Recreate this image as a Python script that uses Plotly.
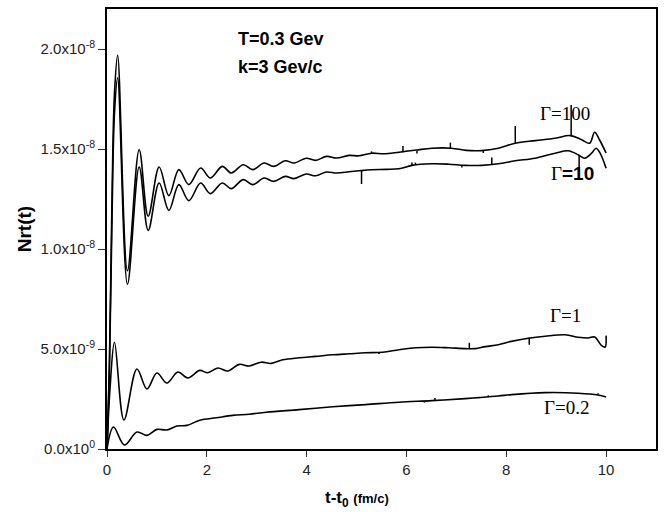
import plotly.graph_objects as go

# ---- data (y in units of 1e-8) ----
x_g100 = [0, 0.05, 0.10, 0.15, 0.213, 0.41, 0.645, 0.825, 1.045, 1.24, 1.44, 1.64, 1.876, 2.07, 2.31, 2.49,
          2.73, 2.92, 3.15, 3.34, 3.57, 3.75, 3.99, 4.18, 4.40, 4.60, 4.85, 5.05, 5.30, 5.55, 5.85, 6.20,
          6.51, 6.90, 7.20, 7.50, 7.84, 8.18, 8.58, 8.98, 9.28, 9.50, 9.67, 9.77, 9.87, 10.0]
y_g100 = [0, 0.45, 1.25, 1.78, 1.969, 0.891, 1.496, 1.164, 1.410, 1.267, 1.397, 1.322, 1.405, 1.355, 1.413, 1.380,
          1.421, 1.397, 1.430, 1.413, 1.441, 1.430, 1.454, 1.443, 1.463, 1.455, 1.468, 1.466, 1.479, 1.476, 1.484, 1.495,
          1.504, 1.504, 1.493, 1.492, 1.504, 1.529, 1.542, 1.554, 1.567, 1.548, 1.529, 1.584, 1.545, 1.48]

x_g10 = [0, 0.05, 0.10, 0.15, 0.213, 0.41, 0.645, 0.825, 1.045, 1.24, 1.44, 1.64, 1.876, 2.07, 2.31, 2.49,
         2.73, 2.92, 3.15, 3.34, 3.57, 3.75, 3.99, 4.18, 4.40, 4.60, 4.85, 5.05, 5.30, 5.60, 5.85, 6.11,
         6.51, 6.85, 7.18, 7.51, 7.84, 8.18, 8.58, 8.98, 9.24, 9.45, 9.57, 9.71, 9.80, 9.88, 10.0]
y_g10 = [0, 0.42, 1.15, 1.68, 1.856, 0.824, 1.410, 1.093, 1.330, 1.193, 1.322, 1.242, 1.330, 1.277, 1.330, 1.302,
         1.347, 1.322, 1.355, 1.338, 1.363, 1.352, 1.375, 1.366, 1.385, 1.380, 1.386, 1.391, 1.396, 1.398, 1.401, 1.418,
         1.426, 1.424, 1.418, 1.418, 1.426, 1.441, 1.454, 1.479, 1.491, 1.470, 1.454, 1.479, 1.504, 1.479, 1.404]

x_g1 = [0, 0.06, 0.15, 0.34, 0.60, 0.80, 1.00, 1.20, 1.42, 1.62, 1.86, 2.02, 2.22, 2.42, 2.65, 2.85, 3.09, 3.29,
        3.52, 3.85, 4.18, 4.52, 4.85, 5.18, 5.52, 5.85, 6.18, 6.51, 6.85, 7.18, 7.38, 7.58, 7.84, 8.10, 8.44,
        8.78, 9.18, 9.44, 9.64, 9.77, 9.91, 9.98, 10.0]
y_g1 = [0, 0.30, 0.534, 0.145, 0.40, 0.30, 0.38, 0.33, 0.385, 0.355, 0.393, 0.381, 0.405, 0.39, 0.423, 0.415, 0.434, 0.428,
        0.446, 0.456, 0.463, 0.471, 0.476, 0.481, 0.484, 0.496, 0.506, 0.509, 0.506, 0.502, 0.502, 0.512, 0.521, 0.538, 0.554,
        0.564, 0.571, 0.559, 0.555, 0.56, 0.517, 0.51, 0.567]

x_g02 = [0, 0.13, 0.35, 0.60, 0.80, 1.00, 1.20, 1.40, 1.60, 1.86, 2.19, 2.52, 2.85, 3.19, 3.85, 4.52, 5.18,
         5.85, 6.51, 7.18, 7.45, 7.84, 8.11, 8.78, 9.44, 9.84, 10.0]
y_g02 = [0, 0.11, 0.02, 0.085, 0.068, 0.098, 0.095, 0.115, 0.118, 0.144, 0.156, 0.168, 0.174, 0.184, 0.197, 0.211, 0.222,
         0.234, 0.242, 0.252, 0.257, 0.265, 0.272, 0.282, 0.279, 0.27, 0.26]

# small numerical glitches (vertical spikes) visible on the curves
spk_g100_x = [5.30, 5.93, 6.21, 6.88, 7.54, 8.18, 9.30]
spk_g100_lo = [1.478, 1.484, 1.490, 1.504, 1.492, 1.529, 1.565]
spk_g100_hi = [1.488, 1.515, 1.478, 1.532, 1.480, 1.615, 1.720]
spk_g10_x = [5.10, 6.11, 6.18, 7.11, 7.71, 9.46]
spk_g10_lo = [1.393, 1.418, 1.420, 1.420, 1.424, 1.468]
spk_g10_hi = [1.325, 1.432, 1.432, 1.408, 1.458, 1.388]
spk_g1_x = [5.45, 7.26, 8.46]
spk_g1_lo = [0.483, 0.502, 0.556]
spk_g1_hi = [0.475, 0.531, 0.521]
spk_g02_x = [6.36, 6.57, 7.64, 9.84]
spk_g02_lo = [0.238, 0.243, 0.260, 0.272]
spk_g02_hi = [0.232, 0.255, 0.268, 0.279]

x_ticks = [0, 2, 4, 6, 8, 10]
y_tickvals = [0, 0.5, 1.0, 1.5, 2.0]
y_ticktext = ["0.0x10<sup>0</sup>", "5.0x10<sup>-9</sup>", "1.0x10<sup>-8</sup>",
              "1.5x10<sup>-8</sup>", "2.0x10<sup>-8</sup>"]

SCALE = 1e-8
FONT = "Arial, Liberation Sans, sans-serif"
SERIF = "Times New Roman, Liberation Serif, serif"

fig = go.Figure()

for xs, ys in [(x_g100, y_g100), (x_g10, y_g10), (x_g1, y_g1), (x_g02, y_g02)]:
    fig.add_trace(go.Scatter(x=xs, y=[v * SCALE for v in ys], mode="lines",
                             line=dict(color="black", width=1.6, shape="spline", smoothing=1.0),
                             showlegend=False, hoverinfo="skip"))

for sx, lo, hi in [(spk_g100_x, spk_g100_lo, spk_g100_hi), (spk_g10_x, spk_g10_lo, spk_g10_hi),
                   (spk_g1_x, spk_g1_lo, spk_g1_hi), (spk_g02_x, spk_g02_lo, spk_g02_hi)]:
    xx, yy = [], []
    for a, b, c in zip(sx, lo, hi):
        xx += [a, a, None]
        yy += [b * SCALE, c * SCALE, None]
    fig.add_trace(go.Scatter(x=xx, y=yy, mode="lines", line=dict(color="black", width=1.5),
                             showlegend=False, hoverinfo="skip"))

fig.update_layout(
    width=665, height=512,
    margin=dict(l=107, r=7, t=7, b=63),
    plot_bgcolor="white", paper_bgcolor="white",
    font=dict(family=FONT, size=15, color="#111"),
    xaxis=dict(range=[0, 11], tickvals=x_ticks, ticks="outside", ticklen=6, tickwidth=1, tickcolor="#333",
               showline=True, linecolor="black", linewidth=2, mirror=True, showgrid=False, zeroline=False,
               tickfont=dict(size=15, family=FONT, color="#222")),
    yaxis=dict(range=[0, 2.2e-8], tickvals=[v * SCALE for v in y_tickvals], ticktext=y_ticktext,
               ticks="outside", ticklen=7, tickwidth=1, tickcolor="#333",
               showline=True, linecolor="black", linewidth=2, mirror=True, showgrid=False, zeroline=False,
               tickfont=dict(size=15, family=FONT, color="#222")),
)

ann = []
ann.append(dict(xref="paper", yref="paper", x=(24 - 107) / 551, y=0.5, text="<b>Nrt(t)</b>", textangle=-90,
                showarrow=False, font=dict(family=FONT, size=19, color="black"), xanchor="center", yanchor="middle"))
ann.append(dict(xref="x", yref="paper", x=5, y=(449 - 499) / 442,
                text="<b>t-t<sub>0</sub> <span style='font-size:13px'>(fm/c)</span></b>",
                showarrow=False, font=dict(family=FONT, size=17, color="black"), xanchor="center", yanchor="middle"))
ann.append(dict(xref="x", yref="y", x=2.59, y=2.05e-8, text="<b>T=0.3 Gev</b>", showarrow=False,
                font=dict(family=FONT, size=18, color="black"), xanchor="left", yanchor="middle"))
ann.append(dict(xref="x", yref="y", x=2.59, y=1.91e-8, text="<b>k=3 Gev/c</b>", showarrow=False,
                font=dict(family=FONT, size=18, color="black"), xanchor="left", yanchor="middle"))
ann.append(dict(xref="x", yref="y", x=9.17, y=1.678e-8, text="\u0393=100", showarrow=False,
                font=dict(family=SERIF, size=19, color="black"), xanchor="center", yanchor="middle"))
ann.append(dict(xref="x", yref="y", x=9.32, y=1.378e-8,
                text="\u0393<span style='font-family:Arial, Liberation Sans, sans-serif'><b>=10</b></span>",
                showarrow=False, font=dict(family=SERIF, size=19, color="black"), xanchor="center", yanchor="middle"))
ann.append(dict(xref="x", yref="y", x=9.19, y=0.667e-8, text="\u0393=1", showarrow=False,
                font=dict(family=SERIF, size=19, color="black"), xanchor="center", yanchor="middle"))
ann.append(dict(xref="x", yref="y", x=9.20, y=0.210e-8, text="\u0393=0.2", showarrow=False,
                font=dict(family=SERIF, size=19, color="black"), xanchor="center", yanchor="middle"))
fig.update_layout(annotations=ann)

fig.write_html("out.html")
